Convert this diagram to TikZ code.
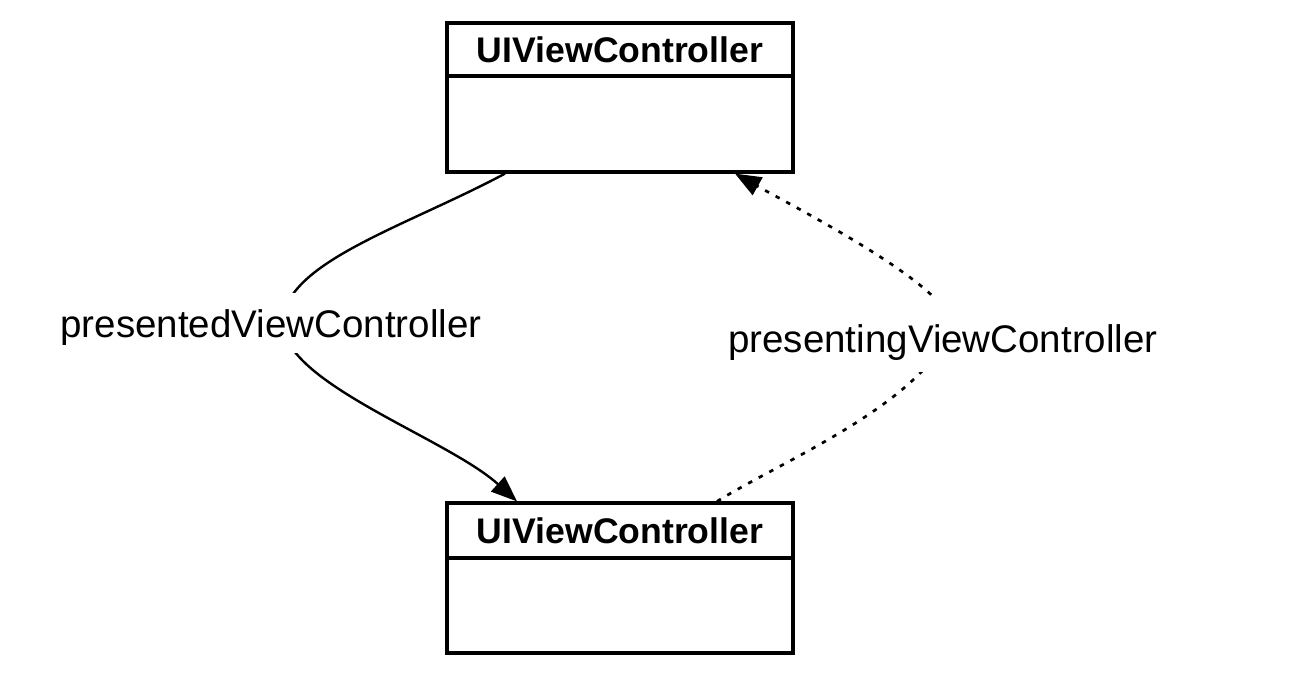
\documentclass[tikz,border=0pt]{standalone}
\usepackage{fontspec}
\setmainfont{Liberation Sans}
\usetikzlibrary{arrows.meta}
\begin{document}
\begin{tikzpicture}[x=1pt,y=-1pt,
  box/.style={draw=black,line width=3.2pt,minimum width=346pt,inner sep=0pt,fill=white},
  title/.style={font=\fontsize{35.6}{40}\bfseries\selectfont},
  lbl/.style={fill=white,inner xsep=4pt,inner ysep=0pt,anchor=base,font=\fontsize{38.5}{42}\selectfont},
  conn/.style={line width=2.4pt,-{Triangle[length=26pt,width=20pt]}},
  dotconn/.style={conn,line width=2.7pt,dash pattern=on 4.5pt off 7.5pt}
]
\useasboundingbox (0,0) rectangle (1292,688);
% top class
\node[box,minimum height=53pt,title] (toph) at (620,49.5) {UIViewController};
\node[box,minimum height=96pt] (topb) at (620,124) {};
% bottom class
\node[box,minimum height=55pt,title] (both) at (620,530.5) {UIViewController};
\node[box,minimum height=95pt] (botb) at (620,605.5) {};
% connectors
\draw[conn] ([xshift=-115pt]topb.south) .. controls (405,227) and (283,263) .. (283,323)
  .. controls (283,383) and (447,438) .. ([xshift=-103pt]both.north);
\draw[dotconn] ([xshift=97pt]both.north) .. controls (780,462) and (920,405) .. (950,330)
  .. controls (966,295) and (800,210) .. ([xshift=115pt]topb.south);
% labels
\node[lbl,text height=44pt,text depth=16pt] (presented) at (271,337) {presentedViewController};
\node[lbl,text height=54pt,text depth=20pt] (presenting) at (943,352) {presentingViewController};
\end{tikzpicture}
\end{document}
